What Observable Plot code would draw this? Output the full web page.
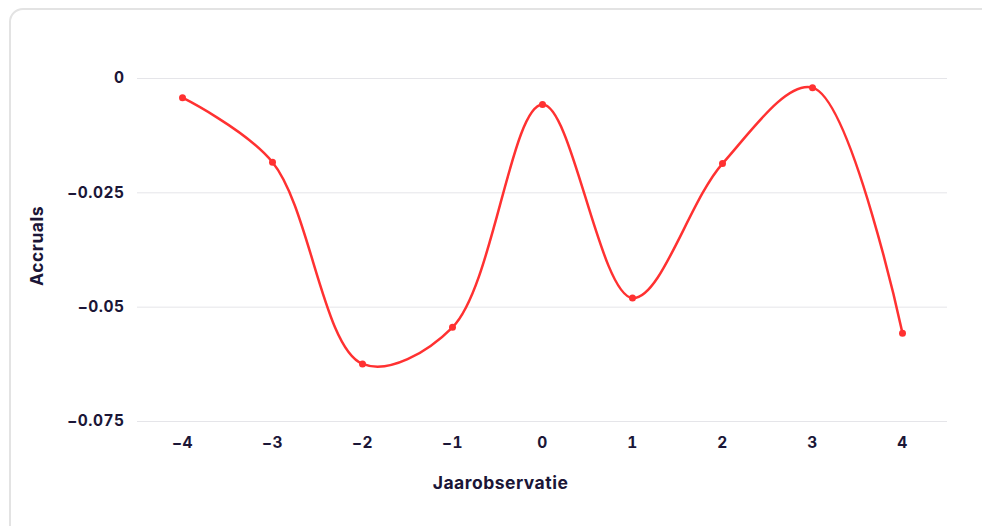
<!DOCTYPE html>
<html>
<head>
<meta charset="utf-8">
<script src="https://cdn.jsdelivr.net/npm/d3@7"></script>
<script src="https://cdn.jsdelivr.net/npm/@observablehq/plot@0.6"></script>
<style>
  html, body { margin: 0; padding: 0; background: #fff; overflow: hidden; }
  #card { position: absolute; left: 9px; top: 8px; width: 1000px; height: 600px; border: 2px solid #e3e3e3; border-radius: 14px; box-sizing: border-box; background: #fff; }
  #chart { position: absolute; left: 0; top: 0; }
  #chart svg text { letter-spacing: 0.5px; }
</style>
</head>
<body>
<div id="card"></div>
<div id="chart"></div>
<script>
const years = [-4, -3, -2, -1, 0, 1, 2, 3, 4];
const accruals = [-0.0042, -0.0183, -0.0624, -0.0544, -0.0057, -0.0480, -0.0186, -0.0020, -0.0557];
const yTicks = [0, -0.025, -0.05, -0.075];
const xLabel = "Jaarobservatie";
const yLabel = "Accruals";

const data = years.map((y, i) => ({year: y, value: accruals[i]}));
const ink = "#1b1637";
const red = "#ff3131";
const font = "Inter, 'Open Sans', sans-serif";

const chart = Plot.plot({
  width: 982,
  height: 526,
  marginLeft: 137,
  marginRight: 35,
  marginTop: 78,
  marginBottom: 105,
  style: {fontFamily: font, fontWeight: 700, color: ink, background: "transparent"},
  x: {domain: [-4.5, 4.5]},
  y: {domain: [-0.075, 0]},
  marks: [
    Plot.gridY({ticks: yTicks, stroke: "#e5e5e9", strokeOpacity: 1, strokeWidth: 1}),
    Plot.axisY({ticks: yTicks, tickSize: 0, tickPadding: 13, fontSize: 15.5, fontWeight: 700, fill: ink, label: null,
      tickFormat: d => d === 0 ? "0" : "\u2212" + String(Math.abs(d))}),
    Plot.axisX({ticks: years, tickSize: 0, tickPadding: 15, fontSize: 15.5, fontWeight: 700, fill: ink, label: null,
      tickFormat: d => d < 0 ? "\u2212" + Math.abs(d) : String(d)}),
    Plot.line(data, {x: "year", y: "value", curve: "catmull-rom", stroke: red, strokeWidth: 2.5}),
    Plot.dot(data, {x: "year", y: "value", r: 3.5, fill: red, stroke: null}),
    Plot.text([yLabel], {frameAnchor: "left", dx: -100, dy: -4, rotate: -90, text: d => d, fontSize: 17.5, fontWeight: 700, fill: ink, textAnchor: "middle"}),
    Plot.text([xLabel], {frameAnchor: "bottom", dx: -42, dy: 67, text: d => d, fontSize: 17.5, fontWeight: 700, fill: ink, textAnchor: "middle"})
  ]
});
document.getElementById("chart").appendChild(chart);
</script>
</body>
</html>
